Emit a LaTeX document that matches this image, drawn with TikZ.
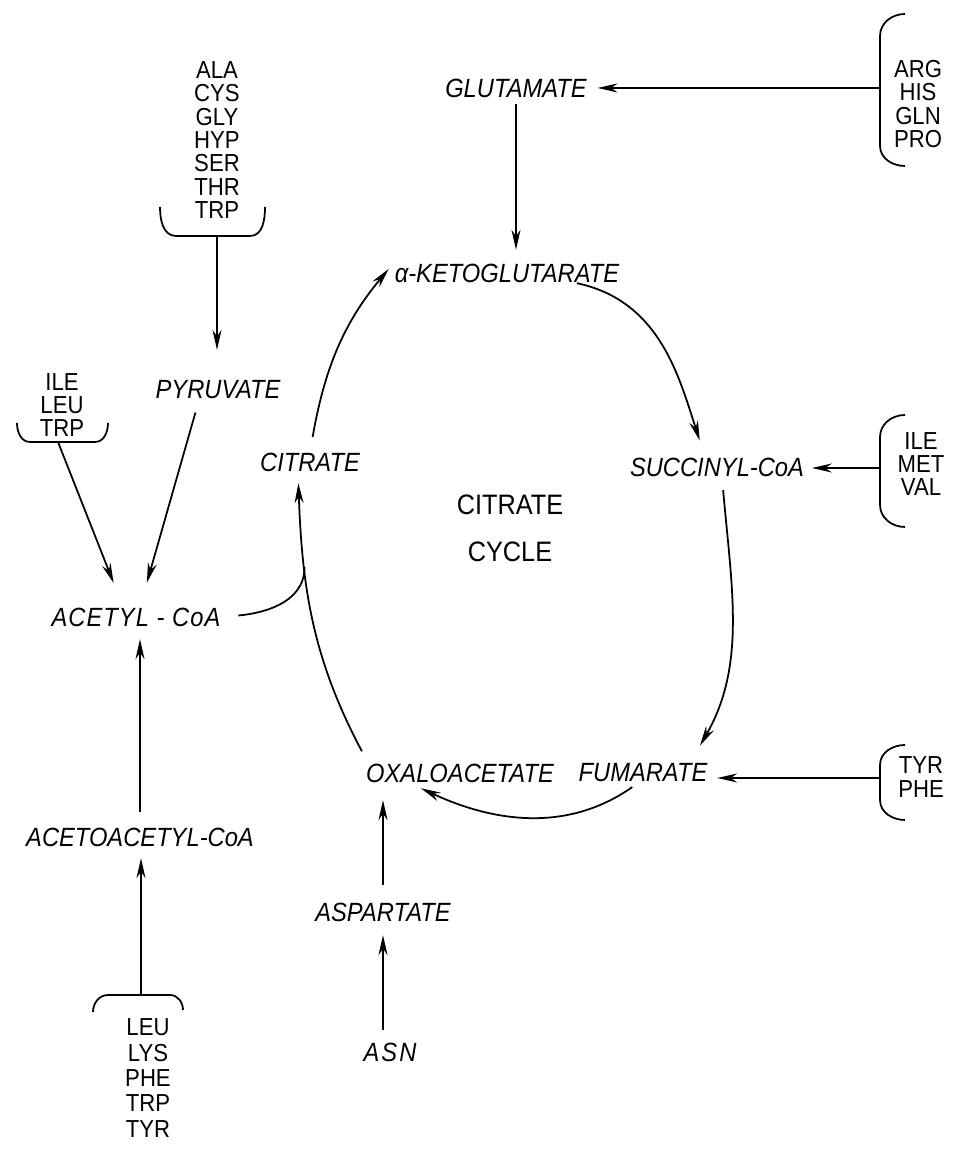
\documentclass[tikz,border=0pt]{standalone}
\usepackage{fontspec}
\setmainfont{Liberation Sans}[FakeStretch=0.9]
\usetikzlibrary{arrows.meta}

\begin{document}
\begin{tikzpicture}[x=0.02cm,y=0.02cm,>={Stealth[length=4mm,width=1.8mm]},
                    line width=1pt]
  \tikzstyle{met}=[font=\fontsize{15}{18}\selectfont\itshape,inner sep=0pt]
  \tikzstyle{amino}=[font=\fontsize{14}{13.3}\selectfont,align=center,inner sep=0pt]
  \tikzstyle{brace}=[line width=1pt]

  \useasboundingbox (0,0) rectangle (954,1151);

  % metabolites
  \node[met] (glu) at (516,1063) {GLUTAMATE};
  \node[met] (ake) at (507,878)  {α-KETOGLUTARATE};
  \node[met] (cit) at (310,689)  {CITRATE};
  \node[met] (suc) at (717,684)  {SUCCINYL-CoA};
  \node[met] (fum) at (643,378)  {FUMARATE};
  \node[met] (oxa) at (460,378)  {OXALOACETATE};
  \node[met] (acc) at (136,534)  {\addfontfeature{LetterSpace=4}ACETYL - CoA};
  \node[met] (aca) at (140,314)  {ACETOACETYL-CoA};
  \node[met] (pyr) at (218,761)  {PYRUVATE};
  \node[met] (asp) at (383,239)  {ASPARTATE};
  \node[met] (asn) at (390,99)   {\addfontfeature{LetterSpace=8}ASN};
  \node[amino,font=\fontsize{16}{26.6}\selectfont] (cyc) at (510,623) {CITRATE\\CYCLE};

  % amino acid groups
  \node[amino] (ala) at (217,1011) {ALA\\CYS\\GLY\\HYP\\SER\\THR\\TRP};
  \node[amino] (ile) at (62,746)   {ILE\\LEU\\TRP};
  \node[amino] (arg) at (918,1047) {ARG\\HIS\\GLN\\PRO};
  \node[amino] (imv) at (921,687)  {ILE\\MET\\VAL};
  \node[amino] (typ) at (921,374)  {TYR\\PHE};
  \node[amino,font=\fontsize{14}{14.4}\selectfont] (leu) at (148,73) {LEU\\LYS\\PHE\\TRP\\TYR};

  \coordinate (alatip) at (217,915);
  \coordinate (iletip) at (58,709);
  \coordinate (leutip) at (141,156);
  \coordinate (argtip) at (880,1063);
  \coordinate (imvtip) at (880,683);
  \coordinate (typtip) at (880,373);

  % braces
  \draw[brace] (160,944) to[out=-90,in=180] (176,915) -- (250,915) to[out=0,in=-90] (265,944);
  \draw[brace] (17,728) to[out=-90,in=180] (30,709) -- (95,709) to[out=0,in=-90] (108,728);
  \draw[brace] (93,139) to[out=90,in=180] (108,156) -- (170,156) to[out=0,in=90] (183,141);
  \draw[brace] (905,1137) to[out=180,in=90] (880,1115) -- (880,1005) to[out=-90,in=180] (905,985);
  \draw[brace] (905,736) to[out=180,in=90] (880,714) -- (880,646) to[out=-90,in=180] (905,624);
  \draw[brace] (905,406) to[out=180,in=90] (880,386) -- (880,351) to[out=-90,in=180] (905,331);

  % feeding arrows
  \draw[->,shorten >=2mm] (argtip) -- (glu.east |- argtip);
  \draw[->,shorten >=1.4mm] (imvtip) -- (suc.east |- imvtip);
  \draw[->,shorten >=1.8mm] (typtip) -- (fum.east |- typtip);
  \draw[->,shorten <=1.2mm,shorten >=2.6mm] (glu.south) -- (glu.south |- ake.north);
  \draw[->,shorten >=6mm] (alatip) -- (alatip |- pyr.north);
  \draw[->,shorten >=5.1mm] (iletip) -- ([xshift=-2.6mm]acc.north);
  \draw[->,shorten <=2.6mm,shorten >=5mm] ([xshift=-3.8mm]pyr.south) -- ([xshift=0.8mm]acc.north);
  \draw[->,shorten <=3mm,shorten >=2.4mm] (aca.north) -- (aca.north |- acc.south);
  \draw[->,shorten >=2.2mm] (leutip) -- (leutip |- aca.south);
  \draw[->,shorten <=3.4mm,shorten >=3.4mm] (asp.north) -- (asp.north |- oxa.south);
  \draw[->,shorten <=2.4mm,shorten >=2.6mm] (asp.south |- asn.north) -- (asp.south);

  % the cycle
  \draw[->,shorten <=3mm,shorten >=1.6mm] (cit.north) to[out=80,in=-130] (ake.north west);
  \draw[->,shorten >=3.4mm] ([xshift=1.4cm]ake.south) to[out=-12,in=108] ([xshift=-2.4mm]suc.north);
  \draw[->,shorten <=2.6mm,shorten >=4mm] ([xshift=1mm]suc.south) to[out=-85,in=60] ([xshift=9.4mm]fum.north);
  \draw[->,shorten <=1.4mm,shorten >=2.4mm] ([xshift=-1mm]fum.south) to[out=-145,in=-25] ([xshift=-1cm]oxa.south);
  \draw[->,shorten <=2.6mm,shorten >=2.2mm] ([xshift=-1.84cm]oxa.north) to[out=118,in=-88]
    coordinate[pos=0.7] (jn) ([xshift=-2.4mm]cit.south);
  \draw[shorten <=3.4mm] (acc.east) to[out=5,in=-90] (jn);
\end{tikzpicture}
\end{document}
